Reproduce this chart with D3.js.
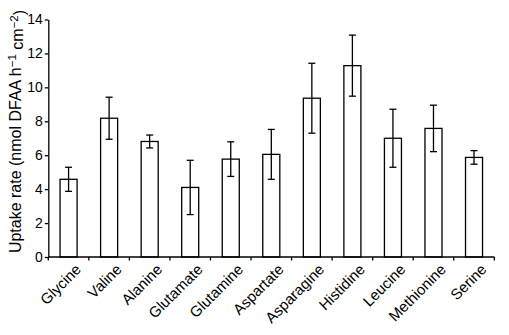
<!DOCTYPE html>
<html>
<head>
<meta charset="utf-8">
<script src="https://cdn.jsdelivr.net/npm/d3@7"></script>
<style>
  html, body { margin: 0; padding: 0; background: #fff; }
  svg { display: block; font-family: "Liberation Sans", Arial, Helvetica, sans-serif; }
</style>
</head>
<body>
<div id="chart"></div>
<script>
// Amino acid uptake rates with standard-error bars
const aminoAcids = ["Glycine", "Valine", "Alanine", "Glutamate", "Glutamine", "Aspartate",
                    "Asparagine", "Histidine", "Leucine", "Methionine", "Serine"];
const uptakeRate = [4.58, 8.18, 6.81, 4.10, 5.77, 6.05, 9.36, 11.28, 7.00, 7.58, 5.87];
const uptakeErr  = [0.71, 1.24, 0.38, 1.60, 1.02, 1.47, 2.06, 1.80, 1.71, 1.37, 0.40];
const yTicks = [0, 2, 4, 6, 8, 10, 12, 14];

const width = 509, height = 335;
const margin = { top: 19.5, right: 14.7, bottom: 78, left: 48.3 };

const svg = d3.select("#chart").append("svg")
  .attr("width", width).attr("height", height);

const x = d3.scaleBand()
  .domain(aminoAcids)
  .range([margin.left, width - margin.right])
  .paddingInner(0.58).paddingOuter(0.29);

const y = d3.scaleLinear()
  .domain([0, 14])
  .range([height - margin.bottom, margin.top]);

const bandStep = x.step();

// bars
svg.append("g").selectAll("rect")
  .data(aminoAcids)
  .join("rect")
  .attr("x", d => x(d))
  .attr("y", (d, i) => y(uptakeRate[i]))
  .attr("width", x.bandwidth())
  .attr("height", (d, i) => y(0) - y(uptakeRate[i]))
  .attr("fill", "#fff")
  .attr("stroke", "#000")
  .attr("stroke-width", 1.3);

// error bars
const capHalf = 3.5;
const err = svg.append("g").attr("stroke", "#000").attr("stroke-width", 1.3);
aminoAcids.forEach((d, i) => {
  const cx = x(d) + x.bandwidth() / 2;
  const hi = y(uptakeRate[i] + uptakeErr[i]);
  const lo = y(uptakeRate[i] - uptakeErr[i]);
  err.append("line").attr("x1", cx).attr("x2", cx).attr("y1", hi).attr("y2", lo);
  err.append("line").attr("x1", cx - capHalf).attr("x2", cx + capHalf).attr("y1", hi).attr("y2", hi);
  err.append("line").attr("x1", cx - capHalf).attr("x2", cx + capHalf).attr("y1", lo).attr("y2", lo);
});

// y axis
const yAxis = svg.append("g")
  .attr("transform", `translate(${margin.left},0)`)
  .call(d3.axisLeft(y).tickValues(yTicks).tickSize(3.5).tickPadding(2).tickSizeOuter(0));
yAxis.select(".domain").attr("stroke-width", 1.3);
yAxis.selectAll(".tick line").attr("stroke-width", 1.3);
yAxis.selectAll("text").attr("font-size", 14).attr("fill", "#000")
  .attr("font-family", "'Liberation Sans', Arial, sans-serif");

// x axis: ticks sit on the boundaries between categories
const boundaries = d3.range(aminoAcids.length + 1).map(k => margin.left + k * bandStep);
const xAxisG = svg.append("g").attr("stroke", "#000").attr("stroke-width", 1.3);
xAxisG.append("line")
  .attr("x1", margin.left).attr("x2", width - margin.right)
  .attr("y1", y(0)).attr("y2", y(0));
xAxisG.selectAll("line.tick")
  .data(boundaries)
  .join("line").attr("class", "tick")
  .attr("x1", d => d).attr("x2", d => d)
  .attr("y1", y(0)).attr("y2", y(0) + 3.5);

// category labels at 45 degrees
svg.append("g").selectAll("text")
  .data(aminoAcids)
  .join("text")
  .attr("transform", d => `translate(${x(d) + x.bandwidth() / 2 + 6},${y(0) + 6}) rotate(-45)`)
  .attr("text-anchor", "end")
  .attr("dy", "0.7em")
  .attr("font-size", 15)
  .attr("fill", "#000")
  .text(d => d);

// y axis title
const title = svg.append("text")
  .attr("transform", `translate(21,${y(0) / 2 + 3}) rotate(-90)`)
  .attr("text-anchor", "middle")
  .attr("font-size", 16)
  .attr("fill", "#000");
title.append("tspan").text("Uptake rate (nmol DFAA h");
title.append("tspan").attr("dy", "-0.45em").attr("font-size", 11.5).text("\u22121");
title.append("tspan").attr("dy", "0.45em").text(" cm");
title.append("tspan").attr("dy", "-0.45em").attr("font-size", 11.5).text("\u22122");
title.append("tspan").attr("dy", "0.45em").text(")");
</script>
</body>
</html>
